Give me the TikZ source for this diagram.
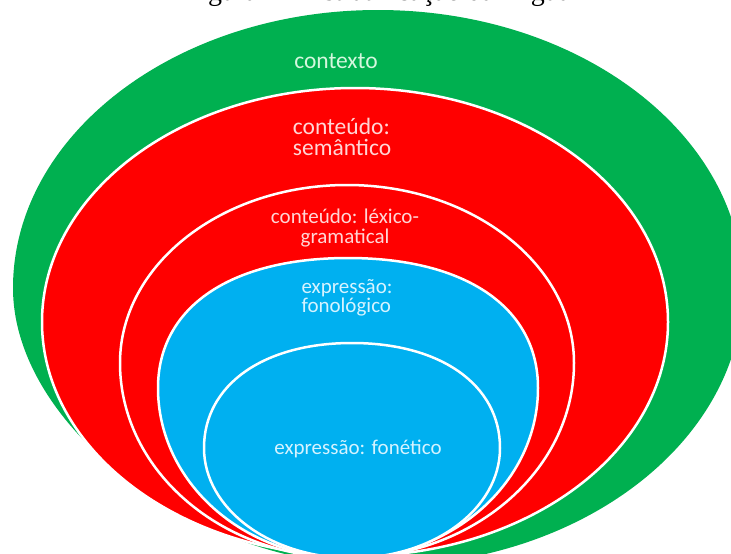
\documentclass[tikz,border=0pt]{standalone}
\usepackage{fontspec}
\setmainfont{Carlito}
\newfontfamily\capfont{Liberation Serif}
\definecolor{cgreen}{HTML}{00B050}
\definecolor{cred}{HTML}{FF0000}
\definecolor{cblue}{HTML}{00B0F0}
\definecolor{tgreen}{HTML}{D4F7DE}
\definecolor{tred}{HTML}{FFD6D6}
\definecolor{tblue}{HTML}{D6F3FF}
\begin{document}
\begin{tikzpicture}[x=1pt,y=-1pt,
  ring/.style={draw=white,line width=2.5pt},
  lbl/.style={font=\fontsize{21}{19.5}\selectfont, inner sep=0pt},
  big/.style={font=\fontsize{23.5}{21.5}\selectfont, inner sep=0pt}]
\useasboundingbox (0,0) rectangle (731,554);
\clip (0,0) rectangle (731,554);
\node[font=\capfont\fontsize{28}{30}\selectfont, anchor=base] (cap) at (378,1) {Figura 1 – Estratificação da língua};
% contexto
\fill[cgreen] (13,288) .. controls (13,134.5) and (176.4,10) .. (378,10)
  .. controls (579.6,10) and (743,134.5) .. (743,288)
  .. controls (743,441.5) and (580.5,566) .. (380,566)
  .. controls (196.5,566) and (13,427) .. (13,288) -- cycle;
% conteudo: semantico
\filldraw[cred,ring] (355,322) ellipse [x radius=313pt, y radius=234pt];
% conteudo: lexico-gramatical
\filldraw[cred,ring] (120,363) .. controls (120,264.7) and (221.6,185) .. (347,185)
  .. controls (472.4,185) and (574,264.7) .. (574,363)
  .. controls (574,470.7) and (472.4,558) .. (347,558)
  .. controls (221.6,558) and (120,470.7) .. (120,363) -- cycle;
% expressao: fonologico
\filldraw[cblue,ring] (158,388) .. controls (158,307.4) and (230.2,258) .. (348,258)
  .. controls (465.8,258) and (538,307.4) .. (538,388)
  .. controls (538,481.9) and (452.9,558) .. (348,558)
  .. controls (243.1,558) and (158,481.9) .. (158,388) -- cycle;
% expressao: fonetico
\filldraw[cblue,ring] (204,448) .. controls (204,385) and (263.2,343) .. (352,343)
  .. controls (440.8,343) and (500,385) .. (500,448)
  .. controls (500,508.8) and (433.7,558) .. (352,558)
  .. controls (270.3,558) and (204,508.8) .. (204,448) -- cycle;
\node[big,text=tgreen] (ctx) at (336,61) {contexto};
\node[big,text=tred,align=left] (sem) at (342,137) {conteúdo:\\semântico};
\node[lbl,text=tred,align=center] (lex) at (345,228) {conteúdo: léxico-\\gramatical};
\node[lbl,text=tblue,align=left] (fonol) at (347,298) {expressão:\\fonológico};
\node[lbl,text=tblue] (fonet) at (358,449) {expressão: fonético};
\end{tikzpicture}
\end{document}
